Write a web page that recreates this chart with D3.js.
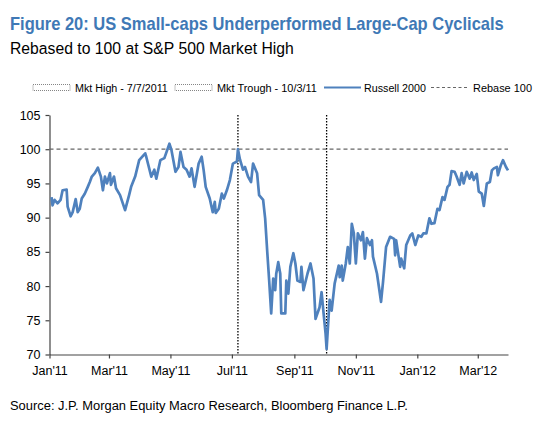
<!DOCTYPE html>
<html>
<head>
<meta charset="utf-8">
<script src="https://cdn.jsdelivr.net/npm/d3@7"></script>
<style>
  body { margin: 0; background: #fff; }
  text { font-family: "Liberation Sans", Arial, sans-serif; }
</style>
</head>
<body>
<svg width="550" height="427"></svg>
<script>
// Russell 2000, herbased op 100 op de S&P 500 top (7/7/2011)
let dates = [
  "2011-01-03","2011-01-04","2011-01-06","2011-01-09","2011-01-12","2011-01-14","2011-01-18","2011-01-19",
  "2011-01-22","2011-01-24","2011-01-27","2011-01-29","2011-01-31","2011-02-02","2011-02-05","2011-02-08",
  "2011-02-10","2011-02-12","2011-02-15","2011-02-18","2011-02-21","2011-02-23","2011-02-25","2011-02-27",
  "2011-03-02","2011-03-03","2011-03-06","2011-03-08","2011-03-12","2011-03-17","2011-03-21","2011-03-23",
  "2011-03-27","2011-03-31","2011-04-06","2011-04-07","2011-04-12","2011-04-15","2011-04-17","2011-04-21",
  "2011-04-25","2011-04-30","2011-05-02","2011-05-06","2011-05-09","2011-05-11","2011-05-14","2011-05-17",
  "2011-05-20","2011-05-22","2011-05-25","2011-05-29","2011-06-01","2011-06-03","2011-06-05","2011-06-09",
  "2011-06-12","2011-06-14","2011-06-15","2011-06-18","2011-06-21","2011-06-23","2011-06-26","2011-06-29",
  "2011-07-02","2011-07-06","2011-07-07","2011-07-09","2011-07-12","2011-07-14","2011-07-17","2011-07-20",
  "2011-07-22","2011-07-26","2011-07-28","2011-08-01","2011-08-03","2011-08-05","2011-08-07","2011-08-09",
  "2011-08-11","2011-08-13","2011-08-14","2011-08-16","2011-08-18","2011-08-19","2011-08-23","2011-08-24",
  "2011-08-26","2011-08-28","2011-08-31","2011-09-02","2011-09-04","2011-09-07","2011-09-08","2011-09-10",
  "2011-09-14","2011-09-17","2011-09-20","2011-09-22","2011-09-26","2011-09-28","2011-09-30","2011-10-02",
  "2011-10-03","2011-10-06","2011-10-08","2011-10-11","2011-10-15","2011-10-16","2011-10-18","2011-10-19",
  "2011-10-22","2011-10-24","2011-10-26","2011-10-28","2011-10-30","2011-11-01","2011-11-03","2011-11-06",
  "2011-11-08","2011-11-10","2011-11-12","2011-11-15","2011-11-17","2011-11-18","2011-11-22","2011-11-26",
  "2011-11-28","2011-12-01","2011-12-05","2011-12-09","2011-12-10","2011-12-11","2011-12-15","2011-12-16",
  "2011-12-19","2011-12-21","2011-12-25","2011-12-27","2011-12-30","2012-01-02","2012-01-05","2012-01-07",
  "2012-01-10","2012-01-13","2012-01-15","2012-01-18","2012-01-21","2012-01-23","2012-01-26","2012-01-28",
  "2012-01-31","2012-02-02","2012-02-04","2012-02-07","2012-02-09","2012-02-12","2012-02-14","2012-02-16",
  "2012-02-19","2012-02-22","2012-02-24","2012-02-26","2012-02-29","2012-03-02","2012-03-05","2012-03-07",
  "2012-03-10","2012-03-13","2012-03-15","2012-03-17","2012-03-20","2012-03-21","2012-03-24","2012-03-26",
  "2012-03-29","2012-03-31"
];
let russell = [
  93.0,91.8,92.6,92.1,92.6,94.0,94.1,91.6,
  90.2,90.8,92.7,90.8,91.3,92.8,93.5,94.5,
  95.2,96.0,96.5,97.3,96.0,94.0,96.0,95.0,
  96.5,94.8,96.0,94.3,93.3,91.1,93.3,94.5,
  96.0,98.4,99.4,98.9,96.0,97.0,95.7,98.4,
  98.7,100.8,99.9,96.7,97.4,99.6,97.4,97.0,
  96.0,97.2,94.5,97.9,98.9,96.9,94.5,92.8,
  90.8,92.3,90.7,91.3,93.5,92.8,94.0,95.5,
  97.9,98.2,100.0,98.5,97.0,97.4,96.0,95.2,
  97.9,96.5,93.3,92.6,89.9,85.2,80.8,76.0,
  81.1,79.4,81.8,83.5,81.8,76.0,76.0,80.8,
  78.9,82.8,84.8,83.3,80.8,80.6,82.8,79.4,
  81.8,83.3,81.1,75.2,76.9,79.1,76.0,73.0,
  70.8,78.0,76.4,80.4,83.0,81.3,83.0,80.8,
  83.3,85.7,83.3,89.1,87.7,83.3,87.7,86.7,
  87.9,84.0,87.0,86.0,86.7,84.3,81.8,77.7,
  80.6,85.7,87.2,86.9,84.5,86.7,82.8,84.0,
  82.6,86.0,87.4,87.7,86.0,87.4,87.2,87.7,
  87.7,89.9,89.1,89.2,91.3,91.1,93.0,92.6,
  94.5,94.8,96.8,96.7,96.0,94.8,96.5,95.0,
  96.7,95.7,96.6,95.5,96.4,93.8,93.5,91.7,
  95.0,95.2,96.9,97.2,97.4,96.2,97.7,98.4,
  97.4,96.9
];
let markers = ["2011-07-07", "2011-10-03"];   // Mkt High, Mkt Trough
let rebase = 100;
let yTicks = [70, 75, 80, 85, 90, 95, 100, 105];
let legendLabels = ["Mkt High - 7/7/2011", "Mkt Trough - 10/3/11", "Russell 2000", "Rebase 100"];

let parse = d3.timeParse("%Y-%m-%d");
let data = dates.map((d, i) => ({date: parse(d), value: russell[i]}));

let blue = "#4f81bd";
let svg = d3.select("svg");

// tekst horizontaal samendrukken tot de breedte uit het origineel
function fit(t, x0, y0, w) {
    let natural = t.node().getComputedTextLength();
    let s = Math.min(1, w / natural);
    t.attr("transform", "translate(" + x0 + "," + y0 + ") scale(" + s + ",1)");
}

let title = svg.append("text")
    .attr("fill", "#3f79b6")
    .attr("font-weight", "bold")
    .attr("font-size", 19)
    .text("Figure 20: US Small-caps Underperformed Large-Cap Cyclicals");
fit(title, 10, 30, 494);

let subtitle = svg.append("text")
    .attr("fill", "#000")
    .attr("font-size", 16.5)
    .text("Rebased to 100 at S&P 500 Market High");
fit(subtitle, 10, 54, 284);

// schalen
let x = d3.scaleTime()
    .domain([parse("2011-01-01"), parse("2012-03-31")])
    .range([49.5, 508]);
let y = d3.scaleLinear()
    .domain([70, 105])
    .range([354.5, 115]);

// assen
let xAxis = svg.append("g")
    .attr("transform", "translate(0," + y(70) + ")")
    .call(d3.axisBottom(x)
        .ticks(d3.timeMonth.every(2))
        .tickFormat(d3.timeFormat("%b'%y"))
        .tickSize(4)
        .tickSizeOuter(0));
xAxis.selectAll("text").attr("font-size", 12.5).attr("fill", "#000").attr("dy", "1.05em")
    .attr("font-family", "Liberation Sans, Arial, sans-serif");

let yAxis = svg.append("g")
    .attr("transform", "translate(" + x.range()[0] + ",0)")
    .call(d3.axisLeft(y).tickValues(yTicks).tickSize(4).tickSizeOuter(0));
yAxis.selectAll("text").attr("font-size", 12.5).attr("fill", "#000").attr("x", -9)
    .attr("font-family", "Liberation Sans, Arial, sans-serif");

svg.selectAll(".domain, .tick line").attr("stroke", "#444").attr("stroke-width", 1.2);

// lijn op 100
svg.append("line")
    .attr("x1", x.range()[0]).attr("x2", x.range()[1])
    .attr("y1", y(rebase)).attr("y2", y(rebase))
    .attr("stroke", "#666").attr("stroke-width", 1.2)
    .attr("stroke-dasharray", "4,3");

// verticale markeringen
svg.selectAll(".marker")
    .data(markers)
    .enter()
    .append("line")
    .attr("class", "marker")
    .attr("x1", d => x(parse(d))).attr("x2", d => x(parse(d)))
    .attr("y1", y(105)).attr("y2", y(70))
    .attr("stroke", "#000").attr("stroke-width", 1.3)
    .attr("stroke-dasharray", "1.5,1.5");

let line = d3.line()
    .x(d => x(d.date))
    .y(d => y(d.value));

svg.append("path")
    .datum(data)
    .attr("fill", "none")
    .attr("stroke", blue)
    .attr("stroke-width", 2.7)
    .attr("stroke-linejoin", "round")
    .attr("d", line);

// legenda
let legY = 88;
let legend = svg.append("g");
let symX = [33, 175, 324, 431];
let txtX = [75, 217, 364, 473];
let txtW = [93, 100, 62, 59];

[0, 1].forEach(i => {
    legend.append("rect")
        .attr("x", symX[i]).attr("y", legY - 3.5)
        .attr("width", 37).attr("height", 6)
        .attr("fill", "none").attr("stroke", "#666")
        .attr("stroke-width", 0.8).attr("stroke-dasharray", "1,1");
});
legend.append("line")
    .attr("x1", symX[2]).attr("x2", symX[2] + 37)
    .attr("y1", legY - 0.5).attr("y2", legY - 0.5)
    .attr("stroke", blue).attr("stroke-width", 2.2);
legend.append("line")
    .attr("x1", symX[3]).attr("x2", symX[3] + 38)
    .attr("y1", legY - 0.5).attr("y2", legY - 0.5)
    .attr("stroke", "#666").attr("stroke-width", 1.2).attr("stroke-dasharray", "3,2.5");

legendLabels.forEach((d, i) => {
    let t = legend.append("text")
        .attr("font-size", 11.5)
        .attr("fill", "#000")
        .text(d);
    fit(t, txtX[i], legY + 4, txtW[i]);
});

let source = svg.append("text")
    .attr("font-size", 13.5)
    .attr("fill", "#000")
    .text("Source: J.P. Morgan Equity Macro Research, Bloomberg Finance L.P.");
fit(source, 10, 410, 398);
</script>
</body>
</html>
